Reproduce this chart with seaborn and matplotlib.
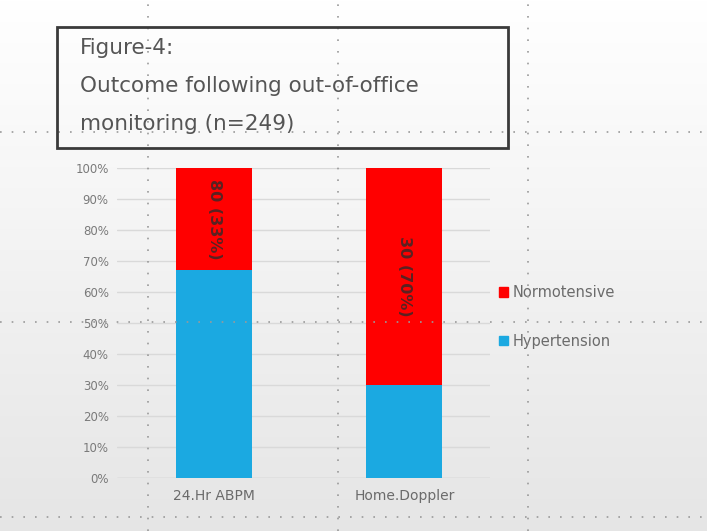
import matplotlib
matplotlib.use("Agg")
import matplotlib.pyplot as plt
import seaborn as sns
import pandas as pd
import numpy as np
from matplotlib.patches import Rectangle
from matplotlib.lines import Line2D

categories = ["24.Hr ABPM", "Home.Doppler"]
hypertension = [67, 30]
normotensive = [33, 70]
norm_labels = ["80 (33%)", "30 (70%)"]
yticks = [0, 10, 20, 30, 40, 50, 60, 70, 80, 90, 100]
title_lines = ["Figure-4:", "Outcome following out-of-office", "monitoring (n=249)"]

sns.set_theme(style="white")
plt.rcParams['font.family'] = ['DejaVu Sans']

RED = "#FF0000"
BLUE = "#1BA9E1"
GREY = "#6b6b6b"

fig = plt.figure(figsize=(7.07, 5.31), dpi=100)
W, H = 707, 531

# background gradient
bg = fig.add_axes([0, 0, 1, 1], zorder=-10)
grad = np.linspace(1.0, 0.90, 256).reshape(-1, 1)
bg.imshow(np.dstack([grad, grad, grad]), aspect="auto", extent=[0, 1, 0, 1])
bg.set_axis_off()

def fx(x): return x / W
def fy(y): return 1 - y / H

ax = fig.add_axes([fx(117), fy(478), fx(490) - fx(117), fy(168) - fy(478)])
ax.patch.set_alpha(0)

df = pd.DataFrame({
    "category": categories,
    "total": [h + n for h, n in zip(hypertension, normotensive)],
    "hypertension": hypertension,
})
sns.barplot(data=df, x="category", y="total", color=RED, width=0.4,
            saturation=1, ax=ax, zorder=3, linewidth=0, edgecolor="none")
sns.barplot(data=df, x="category", y="hypertension", color=BLUE, width=0.4,
            saturation=1, ax=ax, zorder=4, linewidth=0, edgecolor="none")

for i, (h, n, lab) in enumerate(zip(hypertension, normotensive, norm_labels)):
    ax.text(i, h + n / 2, lab, rotation=-90,
            ha="center", va="center", fontsize=11.5, color="#5a2222",
            fontweight="bold", zorder=6)

ax.set_xlim(-0.51, 1.45)
ax.set_ylim(0, 100)
ax.set_yticks(yticks)
ax.set_yticklabels([f"{t}%" for t in yticks], color="#7a7a7a", fontsize=8.5)
ax.set_xticks(range(len(categories)))
ax.set_xticklabels(categories, color=GREY, fontsize=10)
ax.set_xlabel("")
ax.set_ylabel("")
ax.yaxis.grid(True, color="#d9d9d9", linewidth=1, zorder=0)
ax.tick_params(axis="both", length=0, pad=6)
ax.tick_params(axis="x", pad=8)
for s in ax.spines.values():
    s.set_visible(False)
ax.axhline(0, color="#d0d0d0", linewidth=1, zorder=1)

# legend
handles = [Rectangle((0, 0), 1, 1, color=RED), Rectangle((0, 0), 1, 1, color=BLUE)]
fig.legend(handles, ["Normotensive", "Hypertension"], loc="upper left",
           bbox_to_anchor=(fx(486), fy(272)), frameon=False, fontsize=10.5,
           labelcolor=GREY, handlelength=0.6, handleheight=0.6,
           handletextpad=0.3, labelspacing=2.3)

# dotted guide lines
dot = dict(color="#9a9a9a", linestyle=(0, (1, 6)), linewidth=1.2, zorder=20)
for y in [132, 322, 517]:
    fig.add_artist(Line2D([0, 1], [fy(y), fy(y)], transform=fig.transFigure, **dot))
for x in [148, 338, 528]:
    fig.add_artist(Line2D([fx(x), fx(x)], [0, 1], transform=fig.transFigure, **dot))

# title box
fig.add_artist(Rectangle((fx(57), fy(148)), fx(508) - fx(57), fy(27) - fy(148),
                         transform=fig.transFigure, fill=False,
                         edgecolor="#3a3a3a", linewidth=2, zorder=25))
for line, y in zip(title_lines, [48, 86, 124]):
    fig.text(fx(80), fy(y), line, fontsize=15.5, color="#555555",
             ha="left", va="center", zorder=26)

fig.savefig("out.png", dpi=100)
